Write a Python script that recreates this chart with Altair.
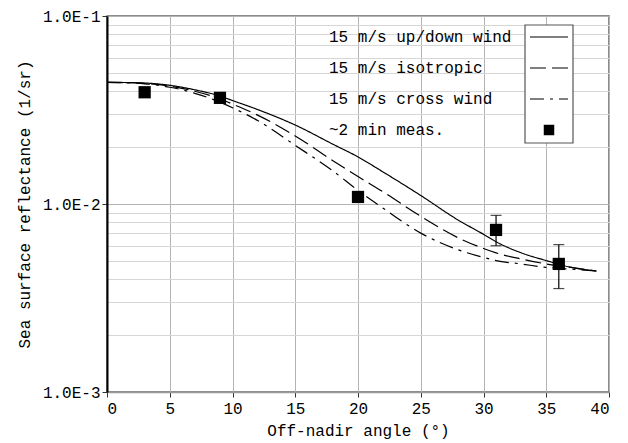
import altair as alt
import pandas as pd

# ---- data ----
angle = [0, 3, 5, 7, 9, 10, 12, 15, 18, 20, 22, 25, 28, 30, 31, 33, 35, 37, 39]
updown = [0.0444, 0.0440, 0.0428, 0.0405, 0.0375, 0.0355, 0.0318, 0.0263, 0.0208, 0.0178,
          0.0148, 0.0111, 0.0082, 0.0069, 0.0063, 0.0055, 0.0050, 0.0046, 0.0044]
isotropic = [0.0444, 0.0438, 0.0424, 0.0398, 0.0362, 0.0340, 0.0297, 0.0230, 0.0170, 0.0140,
             0.0116, 0.0086, 0.0066, 0.0058, 0.0055, 0.0051, 0.0048, 0.0046, 0.0044]
crosswind = [0.0444, 0.0436, 0.0418, 0.0388, 0.0348, 0.0325, 0.0278, 0.0205, 0.0150, 0.0118,
             0.0095, 0.0070, 0.0057, 0.0052, 0.0050, 0.0048, 0.0046, 0.0045, 0.0044]

meas_angle = [3, 9, 20, 31, 36]
meas_val = [0.0393, 0.0367, 0.0109, 0.00728, 0.0048]
err_angle = [31, 36]
err_lo = [0.0060, 0.00355]
err_hi = [0.0087, 0.00608]

series_names = ["15 m/s up/down wind", "15 m/s isotropic", "15 m/s cross wind"]
meas_name = "~2 min meas."

x_ticks = [0, 5, 10, 15, 20, 25, 30, 35, 40]
y_major = [0.001, 0.01, 0.1]
y_major_labels = ["1.0E-3", "1.0E-2", "1.0E-1"]
y_minor = [0.002, 0.003, 0.004, 0.005, 0.006, 0.007, 0.008, 0.009,
           0.02, 0.03, 0.04, 0.05, 0.06, 0.07, 0.08, 0.09]

FONT = "Liberation Mono"
DASHES = [[1, 0], [16, 6], [14, 6, 3, 6]]

# ---- tables ----
rows = []
for name, vals in zip(series_names, [updown, isotropic, crosswind]):
    for a, v in zip(angle, vals):
        rows.append({"angle": a, "value": v, "series": name})
curves = pd.DataFrame(rows)
meas = pd.DataFrame({"angle": meas_angle, "value": meas_val})
errs = pd.DataFrame({"angle": err_angle, "lo": err_lo, "hi": err_hi})

label_expr = " : ".join(
    f"datum.value == {v} ? '{l}'" for v, l in zip(y_major, y_major_labels)
) + " : ''"
major_test = " || ".join(f"datum.value == {v}" for v in y_major)

xscale = alt.Scale(domain=[0, 40], nice=False)
yscale = alt.Scale(type="log", domain=[0.001, 0.1], nice=False)

common = dict(labelFont=FONT, titleFont=FONT, labelFontSize=16, titleFontSize=16,
              labelColor="black", titleColor="black", titleFontWeight="normal")

xaxis = alt.Axis(values=x_ticks, title="Off-nadir angle (°)", grid=True,
                 gridColor="#b4b4b4", gridWidth=1, domainColor="#9a9a9a", domainWidth=1.5,
                 tickColor="#333", tickSize=5, labelPadding=3, titlePadding=6, **common)
yaxis = alt.Axis(values=y_major + y_minor, labelExpr=label_expr,
                 title="Sea surface reflectance (1/sr)", grid=True,
                 gridColor={"condition": {"test": major_test, "value": "#b4b4b4"}, "value": "#d6d6d6"},
                 tickOpacity={"condition": {"test": major_test, "value": 1}, "value": 0},
                 tickColor="#333", tickSize=5, domainColor="#000", domainWidth=2,
                 labelPadding=2, titlePadding=10, **common)

base = alt.Chart(curves)
lines = base.mark_line(color="black", strokeWidth=1.2, interpolate="monotone").encode(
    x=alt.X("angle:Q", scale=xscale, axis=xaxis),
    y=alt.Y("value:Q", scale=yscale, axis=yaxis),
    strokeDash=alt.StrokeDash("series:N",
                              scale=alt.Scale(domain=series_names, range=DASHES),
                              legend=None),
    detail="series:N",
)

err_rule = alt.Chart(errs).mark_rule(color="black", strokeWidth=1.2).encode(
    x="angle:Q", y="lo:Q", y2="hi:Q")
cap_lo = alt.Chart(errs).mark_tick(color="black", orient="horizontal", size=11, thickness=1.2).encode(
    x="angle:Q", y="lo:Q")
cap_hi = alt.Chart(errs).mark_tick(color="black", orient="horizontal", size=11, thickness=1.2).encode(
    x="angle:Q", y="hi:Q")
squares = alt.Chart(meas).mark_square(color="black", size=150, opacity=1).encode(
    x="angle:Q", y="value:Q")

# ---- legend (labels left, samples in a box on the right) ----
leg_y = [21, 52, 83, 114]
leg_labels = series_names + [meas_name]
dummy = pd.DataFrame({"k": [0]})
legend_layers = []
legend_layers.append(
    alt.Chart(dummy).mark_rect(fill="white", stroke="#555", strokeWidth=1.2).encode(
        x=alt.value(418), x2=alt.value(466), y=alt.value(9), y2=alt.value(127)))
for yy, lab in zip(leg_y, leg_labels):
    legend_layers.append(
        alt.Chart(pd.DataFrame({"t": [lab]})).mark_text(
            font=FONT, fontSize=16, align="left", baseline="middle", color="black").encode(
            text="t:N", x=alt.value(222), y=alt.value(yy)))
for yy, dash in zip(leg_y[:3], DASHES):
    legend_layers.append(
        alt.Chart(dummy).mark_rule(color="black", strokeWidth=1.2, strokeDash=dash).encode(
            x=alt.value(423), x2=alt.value(461), y=alt.value(yy)))
legend_layers.append(
    alt.Chart(dummy).mark_square(color="black", size=110, opacity=1).encode(
        x=alt.value(442), y=alt.value(114)))

chart = alt.layer(lines, err_rule, cap_lo, cap_hi, squares, *legend_layers).properties(
    width=502, height=376,
    autosize=alt.AutoSizeParams(type="none"),
    padding={"left": 107, "top": 16, "right": 19, "bottom": 51},
    background="white",
).configure_view(
    stroke="#666", strokeWidth=1.5
)

chart.save("out.html", embed_options={"renderer": "svg", "actions": False})
